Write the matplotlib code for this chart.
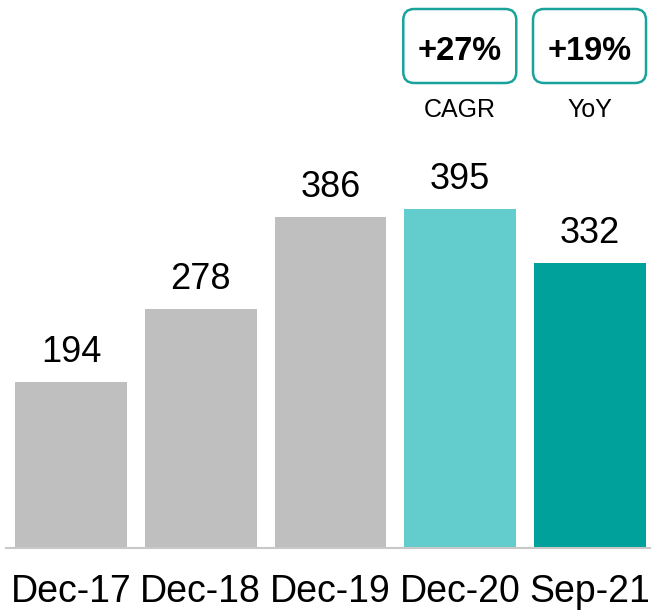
import matplotlib
matplotlib.use("Agg")
import matplotlib.pyplot as plt
from matplotlib.patches import FancyBboxPatch

plt.rcParams["font.family"] = ["Liberation Sans", "DejaVu Sans"]

periods = ["Dec-17", "Dec-18", "Dec-19", "Dec-20", "Sep-21"]
values = [194, 278, 386, 395, 332]
bar_colors = ["#BFBFBF", "#BFBFBF", "#BFBFBF", "#63CDCD", "#00A19A"]

# growth badges: (text, caption, bar index it sits over)
badges = [("+27%", "CAGR", 3), ("+19%", "YoY", 4)]

W, H = 651, 610
fig = plt.figure(figsize=(W / 100, H / 100), dpi=100)

# main bar axes, placed in pixels
ax = fig.add_axes([6 / W, 62 / H, 645 / W, 548 / H])
x = list(range(len(periods)))
ax.bar(x, values, width=0.862, color=bar_colors, zorder=2)
ax.set_xlim(-0.501, 4.47)
ax.set_ylim(0, 638.7)

for xi, v in zip(x, values):
    ax.annotate(str(v), (xi, v), xytext=(0, 14.4), textcoords="offset points",
                ha="center", va="baseline", fontsize=26, color="#000000")

ax.set_xticks(x)
ax.set_xticklabels(periods, fontsize=27)
ax.tick_params(axis="x", length=0, pad=19)
ax.set_yticks([])
for s in ["top", "left", "right"]:
    ax.spines[s].set_visible(False)
ax.spines["bottom"].set_color("#C8C8C8")
ax.spines["bottom"].set_linewidth(1.5)

# overlay in pixel units for badges
ov = fig.add_axes([0, 0, 1, 1])
ov.set_xlim(0, W)
ov.set_ylim(H, 0)
ov.axis("off")

for txt, cap, idx in badges:
    cx = ax.transData.transform((idx, 0))[0]
    left = cx - 57
    box = FancyBboxPatch((left, 9), 113, 74,
                         boxstyle="round,pad=0,rounding_size=11",
                         facecolor="white", edgecolor="#1AA39A", linewidth=1.8)
    ov.add_patch(box)
    ov.text(left + 56.5, 60, txt, ha="center", va="baseline",
            fontsize=23.5, fontweight="bold", color="#000000")
    ov.text(left + 56.5, 117, cap, ha="center", va="baseline",
            fontsize=18, color="#000000")

fig.savefig("out.png", dpi=100)
